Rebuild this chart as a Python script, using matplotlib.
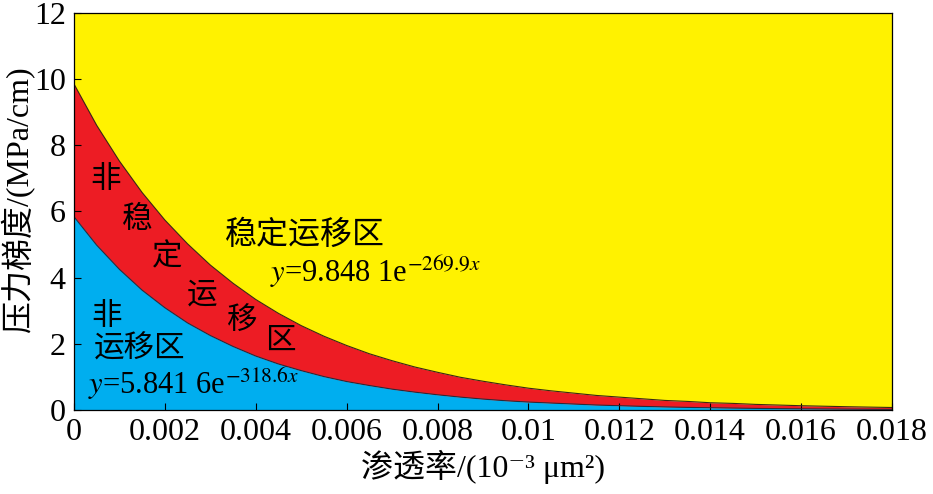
import numpy as np
import matplotlib.pyplot as plt

plt.rcParams['font.family'] = ['Liberation Serif', 'Noto Sans CJK SC', 'DejaVu Serif']
plt.rcParams['mathtext.fontset'] = 'stix'

# permeability values (10^-3 um^2) and pressure gradient boundaries
perm = [0.0000, 0.0005, 0.0010, 0.0015, 0.0020, 0.0025, 0.0030, 0.0035, 0.0040,
        0.0045, 0.0050, 0.0055, 0.0060, 0.0065, 0.0070, 0.0075, 0.0080, 0.0085,
        0.0090, 0.0095, 0.0100, 0.0105, 0.0110, 0.0115, 0.0120, 0.0125, 0.0130,
        0.0135, 0.0140, 0.0145, 0.0150, 0.0155, 0.0160, 0.0165, 0.0170, 0.0175,
        0.0180]
# upper boundary: y = 9.848 1 e^(-269.9x)
upper = [9.85, 8.60, 7.52, 6.57, 5.74, 5.02, 4.38, 3.83, 3.34,
         2.92, 2.55, 2.23, 1.95, 1.70, 1.49, 1.30, 1.14, 0.99,
         0.87, 0.76, 0.66, 0.58, 0.51, 0.44, 0.39, 0.34, 0.29,
         0.26, 0.22, 0.20, 0.17, 0.15, 0.13, 0.115, 0.10, 0.088,
         0.076]
# lower boundary: y = 5.841 6 e^(-318.6x)
lower = [5.84, 4.98, 4.25, 3.62, 3.09, 2.63, 2.25, 1.92, 1.63,
         1.39, 1.19, 1.01, 0.86, 0.74, 0.63, 0.54, 0.46, 0.39,
         0.33, 0.28, 0.24, 0.21, 0.18, 0.15, 0.13, 0.11, 0.093,
         0.079, 0.068, 0.058, 0.049, 0.042, 0.036, 0.031, 0.026, 0.022,
         0.019]

xticks = [0, 0.002, 0.004, 0.006, 0.008, 0.01, 0.012, 0.014, 0.016, 0.018]
xtick_labels = ['0', '0.002', '0.004', '0.006', '0.008', '0.01', '0.012', '0.014', '0.016', '0.018']
yticks = [0, 2, 4, 6, 8, 10, 12]

yellow = '#FFF200'
red = '#ED1C24'
blue = '#00AEEF'

fig = plt.figure(figsize=(9.33, 4.94), dpi=100)
ax = fig.add_axes([0.0793, 0.170, 0.8767, 0.804])

x = np.array(perm)
up = np.array(upper)
lo = np.array(lower)

ax.fill_between(x, up, 12, color=yellow, lw=0)
ax.fill_between(x, lo, up, color=red, lw=0)
ax.fill_between(x, 0, lo, color=blue, lw=0)
ax.plot(x, up, color='#3a2a10', lw=0.8)
ax.plot(x, lo, color='#2a2a3a', lw=0.8)

ax.set_xlim(0, 0.018)
ax.set_ylim(0, 12)
ax.set_xticks(xticks)
ax.set_xticklabels(xtick_labels)
ax.set_yticks(yticks)
ax.tick_params(direction='in', length=5, width=0.8, labelsize=23, pad=6,
               top=False, right=False)
for s in ax.spines.values():
    s.set_linewidth(0.9)

ax.set_xlabel('渗透率/(10⁻³ μm²)', fontsize=23, labelpad=2)
ax.set_ylabel('压力梯度/(MPa/cm)', fontsize=23, va='center')
ax.yaxis.set_label_coords(-0.068, 0.53)

def px2data(px, py):
    return (px - 74) / 818 * 0.018, (410 - py) / 397 * 12

cjk = ['Noto Sans CJK SC', 'DejaVu Sans']
for ch, (px, py) in zip('非稳定运移区', [(106, 180), (137, 220), (167, 257),
                                       (202, 295), (242, 320), (280, 340)]):
    ax.text(*px2data(px, py), ch, fontsize=22, ha='center', va='center', family=cjk)

ax.text(*px2data(305, 235), '稳定运移区', fontsize=23, ha='center', va='center', family=cjk)
ax.text(*px2data(107, 317), '非', fontsize=22, ha='center', va='center', family=cjk)
ax.text(*px2data(140, 349), '运移区', fontsize=22, ha='center', va='center', family=cjk)

ax.text(*px2data(270, 272), '$y$=9.848 1e$^{-269.9x}$', fontsize=22, ha='left', va='center')
ax.text(*px2data(88, 384), '$y$=5.841 6e$^{-318.6x}$', fontsize=22, ha='left', va='center')

fig.savefig('out.png', dpi=100)
